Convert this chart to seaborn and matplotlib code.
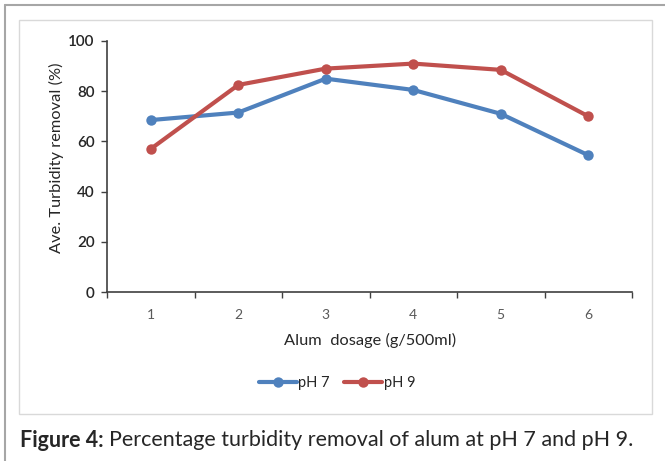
import matplotlib
matplotlib.use('Agg')
import matplotlib.pyplot as plt
from matplotlib.patches import Rectangle
from matplotlib.lines import Line2D
import seaborn as sns
import pandas as pd

# データ
dosage = [1, 2, 3, 4, 5, 6]
ph7 = [68.5, 71.5, 85.0, 80.5, 71.0, 54.5]
ph9 = [57.0, 82.5, 89.0, 91.0, 88.5, 70.0]
series_names = ['pH 7', 'pH 9']
colors = ['#4F81BD', '#C0504D']

df = pd.DataFrame({
    'dosage': dosage * 2,
    'removal': ph7 + ph9,
    'series': [series_names[0]] * len(dosage) + [series_names[1]] * len(dosage),
})

sns.set_style('white')
plt.rcParams['font.family'] = ['Lato', 'DejaVu Sans']

fig = plt.figure(figsize=(6.65, 4.61), dpi=100)
W, H = 665, 461

# 外枠と内枠
fig.add_artist(Line2D([5 / W, 1], [1 - 5 / H, 1 - 5 / H], color='#A6A6A6', lw=1.5))
fig.add_artist(Line2D([5 / W, 5 / W], [0, 1 - 5 / H], color='#A6A6A6', lw=1.5))
fig.add_artist(Rectangle((19 / W, 1 - 414 / H), (652 - 19) / W, (414 - 20) / H,
                         fill=False, ec='#D9D9D9', lw=1.0))

ax = fig.add_axes([107 / W, 1 - 292 / H, (632 - 107) / W, (292 - 41) / H])
sns.lineplot(data=df, x='dosage', y='removal', hue='series', palette=colors,
             marker='o', markersize=7.5, linewidth=3.0, markeredgewidth=0,
             ax=ax, legend=False)

ax.set_xlim(0.5, 6.5)
ax.set_ylim(0, 100)
ax.set_yticks(range(0, 101, 20))
ax.set_xticks([x + 0.5 for x in range(0, 7)])
ax.set_xticklabels([])
ax.set_xticks(dosage, minor=True)
ax.set_xticklabels([str(d) for d in dosage], minor=True, color='#595959', fontsize=10)
ax.tick_params(axis='x', which='major', length=4, width=1, color='#404040', direction='out', bottom=True)
ax.tick_params(axis='x', which='minor', length=0, pad=12, bottom=True)
ax.tick_params(axis='y', length=4, width=1, color='#404040', direction='out', left=True,
               labelsize=11, pad=5)
for lbl in ax.get_yticklabels():
    lbl.set_fontweight('semibold')

for s in ['top', 'right']:
    ax.spines[s].set_visible(False)
for s in ['left', 'bottom']:
    ax.spines[s].set_color('#404040')
    ax.spines[s].set_linewidth(1.2)

ax.set_xlabel('')
ax.set_ylabel('')
fig.text(370 / W, 1 - 340 / H, 'Alum  dosage (g/500ml)', ha='center', va='center', fontsize=11.8)
fig.text(56 / W, 1 - 158 / H, 'Ave. Turbidity removal (%)', ha='center', va='center',
         rotation=90, fontsize=11.8)

handles = [Line2D([], [], color=c, marker='o', lw=3.0, markersize=7.5, markeredgewidth=0) for c in colors]
fig.legend(handles, series_names, loc='center', bbox_to_anchor=(337 / W, 1 - 383 / H), ncol=2,
           frameon=False, fontsize=10.5, handlelength=2.6, columnspacing=1.0, handletextpad=0.1)

# キャプション
t1 = fig.text(20 / W, 1 - 440 / H, 'Figure 4:', ha='left', va='center', fontsize=15.5, fontweight='bold')
fig.canvas.draw()
bb = t1.get_window_extent()
fig.text((bb.x1 + 5) / W, 1 - 440 / H, 'Percentage turbidity removal of alum at pH 7 and pH 9.',
         ha='left', va='center', fontsize=15.5)

plt.savefig('out.png', dpi=100)
